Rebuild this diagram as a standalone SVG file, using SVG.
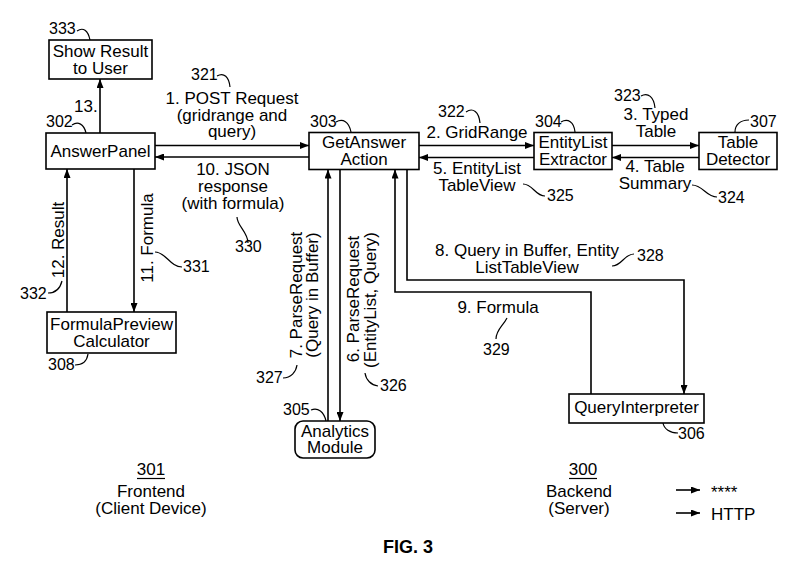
<svg xmlns="http://www.w3.org/2000/svg" width="799" height="577" viewBox="0 0 799 577">
<style>
text{font-family:"Liberation Sans",Arial,sans-serif;font-size:17px;fill:#000}
.n{font-size:16px}
.c{text-anchor:middle}
.box{fill:#fff;stroke:#000;stroke-width:1.6}
.ln{fill:none;stroke:#000;stroke-width:1.6}
.ld{fill:none;stroke:#000;stroke-width:1.2}
.fig{font-weight:bold;font-size:18px}
</style>
<defs>
<marker id="ah" viewBox="0 0 9 7" refX="9" refY="3.5" markerWidth="9" markerHeight="7" markerUnits="userSpaceOnUse" orient="auto">
<path d="M0,0 L9,3.5 L0,7 z" fill="#000"/>
</marker>
</defs>
<rect width="799" height="577" fill="#fff"/>

<g id="connectors">
<path class="ln" d="M100,133 V79" marker-end="url(#ah)"/>
<path class="ln" d="M155,145.5 H309" marker-end="url(#ah)"/>
<path class="ln" d="M309,157 H155" marker-end="url(#ah)"/>
<path class="ln" d="M419,145.5 H534" marker-end="url(#ah)"/>
<path class="ln" d="M534,157.5 H419" marker-end="url(#ah)"/>
<path class="ln" d="M612,145.5 H699" marker-end="url(#ah)"/>
<path class="ln" d="M699,157.5 H612" marker-end="url(#ah)"/>
<path class="ln" d="M134,169 V312" marker-end="url(#ah)"/>
<path class="ln" d="M67,312 V169" marker-end="url(#ah)"/>
<path class="ln" d="M328,421 V169.5" marker-end="url(#ah)"/>
<path class="ln" d="M340,169.5 V421" marker-end="url(#ah)"/>
<path class="ln" d="M407,169.5 V280 H684 V394" marker-end="url(#ah)"/>
<path class="ln" d="M591,394 V292 H395 V169.5" marker-end="url(#ah)"/>
<path class="ln" d="M676,490 H700" marker-end="url(#ah)"/>
<path class="ln" d="M676,513 H700" marker-end="url(#ah)"/>
</g>

<g id="leaders">
<path class="ld" d="M77,31 C83,27 88,30 90,40"/>
<path class="ld" d="M72,125 C78,121 84,124 86,133"/>
<path class="ld" d="M336,122 C343,118 349,122 351,132"/>
<path class="ld" d="M561,122 C568,118 574,122 575,132"/>
<path class="ld" d="M466,112 C473,107 479,112 480,123"/>
<path class="ld" d="M641,96 C648,92 654,97 655,108"/>
<path class="ld" d="M217,76 C224,72 229,77 230,87"/>
<path class="ld" d="M735,132 C735,125 740,120 749,120"/>
<path class="ld" d="M523,184 C533,184 535,196 545,196"/>
<path class="ld" d="M692,185 C703,185 706,197 717,197"/>
<path class="ld" d="M612,266 C622,266 624,254 634,254"/>
<path class="ld" d="M507,318 C503,326 496,330 496,339"/>
<path class="ld" d="M237,217 C237,226 248,232 248,243"/>
<path class="ld" d="M155,252 C166,252 170,267 182,267"/>
<path class="ld" d="M48,293 C56,293 60,289 62,281"/>
<path class="ld" d="M75,365 C83,365 87,361 88,354"/>
<path class="ld" d="M283,378 C291,378 296,372 297,365"/>
<path class="ld" d="M365,373 C366,380 371,385 378,386"/>
<path class="ld" d="M311,410 C318,407 324,412 326,421"/>
<path class="ld" d="M663,423 C664,429 670,433 678,433"/>
</g>

<g id="n333">
<rect class="box" x="49" y="40" width="103" height="39"/>
<text class="c" x="100.5" y="57">Show Result<tspan x="100.5" dy="17">to User</tspan></text>
<text class="n" x="49" y="34">333</text>
</g>
<g id="n302">
<rect class="box" x="46" y="133" width="109" height="36"/>
<text class="c" x="100.5" y="157">AnswerPanel</text>
<text class="n" x="46" y="127">302</text>
</g>
<g id="n303">
<rect class="box" x="309" y="132.5" width="110" height="37"/>
<text class="c" x="364" y="148">GetAnswer<tspan x="364" dy="17">Action</tspan></text>
<text class="n" x="310" y="127">303</text>
</g>
<g id="n304">
<rect class="box" x="534" y="132.5" width="78" height="37"/>
<text class="c" x="573" y="147.5">EntityList<tspan x="573" dy="17.5">Extractor</tspan></text>
<text class="n" x="535" y="127">304</text>
</g>
<g id="n307">
<rect class="box" x="699" y="132.5" width="78" height="37"/>
<text class="c" x="738" y="147.5">Table<tspan x="738" dy="17.5">Detector</tspan></text>
<text class="n" x="750" y="127">307</text>
</g>
<g id="n308">
<rect class="box" x="47" y="312" width="129" height="41"/>
<text class="c" x="111.5" y="330">FormulaPreview<tspan x="111.5" dy="17">Calculator</tspan></text>
<text class="n" x="48" y="370">308</text>
</g>
<g id="n305">
<rect class="box" x="295" y="421" width="80" height="37" rx="8"/>
<text class="c" x="335" y="437">Analytics<tspan x="335" dy="16">Module</tspan></text>
<text class="n" x="283" y="415">305</text>
</g>
<g id="n306">
<rect class="box" x="569" y="394" width="135" height="29"/>
<text class="c" x="636.5" y="413">QueryInterpreter</text>
<text class="n" x="678" y="439">306</text>
</g>

<g id="labels">
<text x="74" y="112">13.</text>
<text class="n" x="191" y="80">321</text>
<text class="c" x="232" y="104">1. POST Request<tspan x="232" dy="16.5">(gridrange and</tspan><tspan x="232" dy="16.5">query)</tspan></text>
<text class="c" x="233" y="175">10. JSON<tspan x="233" dy="16.5">response</tspan><tspan x="233" dy="17">(with formula)</tspan></text>
<text class="n" x="235" y="252">330</text>
<text class="c" x="477" y="138">2. GridRange</text>
<text class="n" x="438" y="117">322</text>
<text class="c" x="477" y="174">5. EntityList<tspan x="477" dy="16.5">TableView</tspan></text>
<text class="n" x="547" y="201">325</text>
<text class="c" x="656" y="120">3. Typed<tspan x="656" dy="16.5">Table</tspan></text>
<text class="n" x="614" y="101">323</text>
<text class="c" x="655" y="172">4. Table<tspan x="655" dy="16.5">Summary</tspan></text>
<text class="n" x="718" y="203">324</text>
<text class="c" transform="translate(64 240) rotate(-90)" x="0" y="0">12. Result</text>
<text class="c" transform="translate(153 238) rotate(-90)" x="0" y="0">11. Formula</text>
<text class="n" x="183" y="272">331</text>
<text class="n" x="20" y="299">332</text>
<text class="c" transform="translate(302 295) rotate(-90)" x="0" y="0">7. ParseRequest<tspan x="0" dy="16">(Query in Buffer)</tspan></text>
<text class="c" transform="translate(359 299) rotate(-90)" x="0" y="0">6. ParseRequest<tspan x="-1" dy="17">(EntityList, Query)</tspan></text>
<text class="n" x="256" y="383">327</text>
<text class="n" x="380" y="391">326</text>
<text class="c" x="527" y="256">8. Query in Buffer, Entity<tspan x="527" dy="17">ListTableView</tspan></text>
<text class="n" x="637" y="261">328</text>
<text class="c" x="498" y="313">9. Formula</text>
<text class="n" x="483" y="355">329</text>
</g>

<g id="sections">
<text class="c" x="151" y="475">301</text>
<path class="ld" d="M137,478.5 H165"/>
<text class="c" x="151" y="497">Frontend<tspan x="151" dy="17">(Client Device)</tspan></text>
<text class="c" x="583" y="475">300</text>
<path class="ld" d="M569,478.5 H597"/>
<text class="c" x="579" y="497">Backend<tspan x="579" dy="17">(Server)</tspan></text>
<text x="711" y="497.5">****</text>
<text x="711" y="520">HTTP</text>
<text class="c fig" x="408" y="553">FIG. 3</text>
</g>
</svg>
